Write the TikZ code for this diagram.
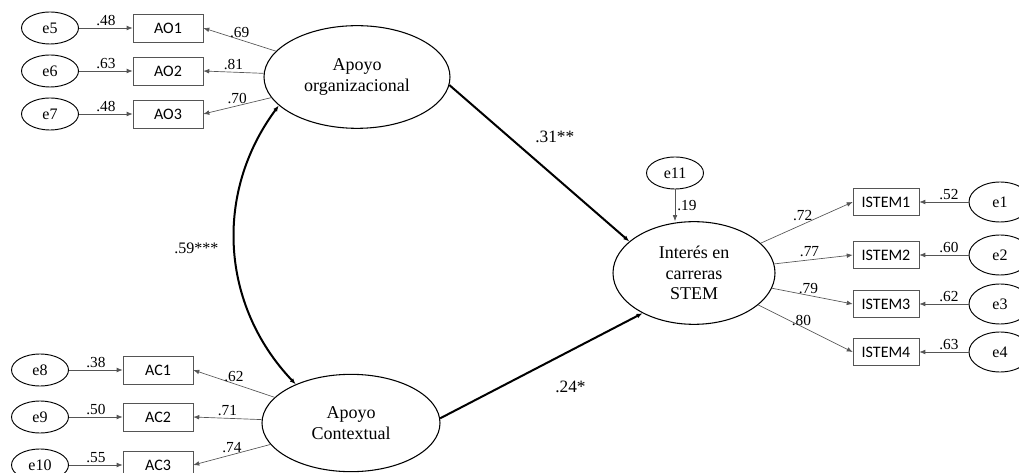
\documentclass[tikz,border=0pt]{standalone}
\usepackage{fontspec}
\setmainfont{Liberation Serif}
\newfontfamily\boxfont{Carlito}
\usetikzlibrary{arrows.meta,positioning,shapes.geometric}
\definecolor{lgray}{HTML}{555555}

\begin{document}
\begin{tikzpicture}[x=0.75pt,y=-0.75pt,>={Latex[length=4.5pt,width=3.5pt]},
  lat/.style={draw,ellipse,line width=0.8pt,inner sep=0pt,align=center,font=\fontsize{13.5}{15.5}\selectfont},
  err/.style={draw,ellipse,line width=0.7pt,minimum width=42.75pt,minimum height=24pt,inner sep=0pt,font=\fontsize{12}{13}\selectfont},
  errR/.style={err,minimum width=46.5pt,minimum height=30pt},
  obs/.style={draw=lgray,minimum width=52.5pt,minimum height=21pt,inner sep=0pt,font=\boxfont\fontsize{12}{14}\selectfont},
  ln/.style={draw=lgray,line width=0.5pt,->},
  thk/.style={line width=1.5pt,->},
  lbl/.style={font=\fontsize{11.5}{13}\selectfont,inner sep=1.5pt}]
 \useasboundingbox (0,0) rectangle (1019,473);
 % latent factors
 \node[lat,minimum width=139.5pt,minimum height=77pt] (org) at (357,77) {Apoyo\\organizacional};
 \node[lat,minimum width=133.5pt,minimum height=73pt] (ctx) at (351,423) {Apoyo\\Contextual};
 \node[lat,minimum width=121.5pt,minimum height=77pt] (int) at (694,273) {Interés en\\carreras\\STEM};
 \node[err] (e11) at (675,173) {e11};
 % indicators
 \foreach \i/\e/\y/\a/\b in {1/5/28/.48/.69,2/6/71/.63/.81,3/7/114/.48/.70}{
  \node[err] (e\e) at (50,\y) {e\e};
  \node[obs] (AO\i) at (168,\y) {AO\i};
  \draw[ln] (e\e) -- (AO\i) node[lbl,midway,above]{\a};
  \draw[ln] (org) -- (AO\i.east) node[lbl,midway,above]{\b};}
 \foreach \i/\e/\y/\a/\b in {1/8/370/.38/.62,2/9/417/.50/.71,3/10/465/.55/.74}{
  \node[err] (e\e) at (40,\y) {e\e};
  \node[obs] (AC\i) at (158,\y) {AC\i};
  \draw[ln] (e\e) -- (AC\i) node[lbl,midway,above]{\a};
  \draw[ln] (ctx) -- (AC\i.east) node[lbl,midway,above]{\b};}
 \foreach \i/\y/\a/\b in {1/202/.52/.72,2/255/.60/.77,3/304/.62/.79,4/352/.63/.80}{
  \node[obs,minimum width=49.5pt,minimum height=20pt] (IS\i) at (886,\y) {ISTEM\i};
  \node[errR] (e\i) at (1000,\y) {e\i};
  \draw[ln] (e\i) -- (IS\i) node[lbl,pos=0.4,above]{\a};
  \draw[ln] (int) -- (IS\i.west) node[lbl,midway,above,xshift=-3pt]{\b};}
 % structural paths
 \draw[ln] (e11) -- (e11 |- int.north) node[lbl,midway,right]{.19};
 \draw[thk] (org.-5) -- (int.154) node[lbl,pos=0.586,yshift=30pt,font=\fontsize{13}{14}\selectfont]{.31**};
 \draw[thk] (ctx.3) -- (int.218) node[lbl,pos=0.644,yshift=-27pt,font=\fontsize{13}{14}\selectfont]{.24*};
 \draw[thk,<->] (org.200) to[bend right=40] node[lbl,midway,left=10pt,font=\fontsize{12}{14}\selectfont]{.59***} (ctx.145);
\end{tikzpicture}
\end{document}
